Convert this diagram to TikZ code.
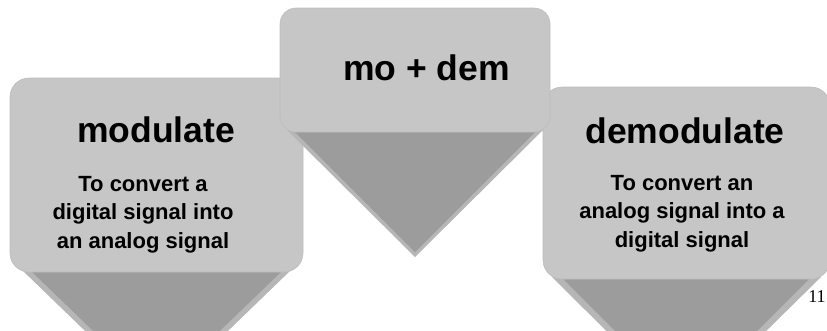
\documentclass[tikz,border=0pt]{standalone}
\usepackage{fontspec}
\setmainfont{Liberation Sans}
\newfontfamily\serifnum{Liberation Serif}
\definecolor{boxfill}{HTML}{C6C6C6}
\definecolor{boxedge}{HTML}{BDBDBD}
\definecolor{trifill}{HTML}{9C9C9C}
\definecolor{triedge}{HTML}{B6B6B6}
\begin{document}
\begin{tikzpicture}[x=1pt,y=-1pt,
  panel/.style={fill=boxfill,draw=boxedge,line width=0.6pt,rounded corners=19pt},
  tri/.style={fill=trifill},
  bevel/.style={fill=triedge},
  head/.style={font=\fontsize{35.5}{36}\selectfont\bfseries,anchor=base,inner sep=0pt},
  body/.style={font=\fontsize{22}{28.5}\selectfont\bfseries,align=center,inner sep=0pt}]
\useasboundingbox (0,0) rectangle (827,330);
% left shape
\fill[bevel] (22,270) -- (291,270) -- (156.5,400) -- cycle;
\fill[tri] (31,271) -- (282,271) -- (156.5,392) -- cycle;
\draw[panel] (10,78) rectangle (303,272);
% right shape
\fill[bevel] (552,277) -- (821,277) -- (686,410) -- cycle;
\fill[tri] (562,278) -- (810,278) -- (686,402) -- cycle;
\draw[panel] (543,87) rectangle (830,279);
% middle shape
\fill[bevel] (287,130) -- (543,130) -- (415,257) -- cycle;
\fill[tri] (294,131) -- (536,131) -- (415,252) -- cycle;
\draw[panel,rounded corners=16pt] (280,8) rectangle (550,132);
% texts
\node[head] (h1) at (156,142) {modulate};
\node[body,anchor=base] (b1) at (143,248) {To convert a\\digital signal into\\an analog signal};
\node[head] (h2) at (426.5,80) {mo + dem};
\node[head] (h3) at (685,143) {demodulate};
\node[body,anchor=base] (b3) at (682,247) {To convert an\\analog signal into a\\digital signal};
\node[font=\serifnum\fontsize{18}{18}\selectfont,anchor=base,inner sep=0pt] (pg) at (817,302) {11};
\end{tikzpicture}
\end{document}
